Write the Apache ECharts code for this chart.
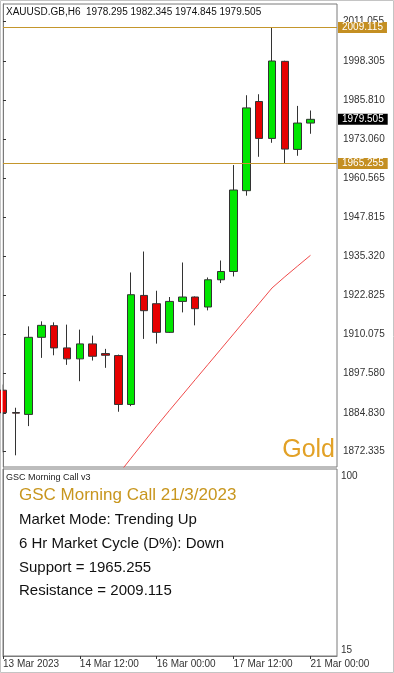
<!DOCTYPE html>
<html><head><meta charset="utf-8">
<script src="https://cdn.jsdelivr.net/npm/echarts@6/dist/echarts.min.js"></script>
<style>html,body{margin:0;padding:0;background:#fff}#c{width:394px;height:673px}</style>
</head><body><div id="c"></div><script>
// ---- data ----
const symbolName = 'XAUUSD.GB,H6';
const barTimes = ['13 Mar 00:00','13 Mar 06:00','13 Mar 12:00','13 Mar 18:00','14 Mar 00:00','14 Mar 06:00','14 Mar 12:00','14 Mar 18:00',
  '15 Mar 00:00','15 Mar 06:00','15 Mar 12:00','15 Mar 18:00','16 Mar 00:00','16 Mar 06:00','16 Mar 12:00','16 Mar 18:00',
  '17 Mar 00:00','17 Mar 06:00','17 Mar 12:00','17 Mar 18:00','20 Mar 00:00','20 Mar 06:00','20 Mar 12:00','20 Mar 18:00','21 Mar 00:00'];
const opens  = [1892.15,1884.95,1884.34,1909.20,1912.96,1905.79,1902.25,1907.08,1903.96,1903.32,1887.55,1922.71,1920.04,1910.81,1920.78,1922.20,1918.98,1927.76,1930.43,1956.49,1985.25,1973.34,1998.20,1969.80,1978.295];
const closes = [1884.88,1884.75,1909.20,1913.06,1905.79,1902.25,1907.08,1903.09,1903.41,1887.55,1922.94,1917.79,1910.81,1920.78,1922.20,1918.43,1927.76,1930.43,1956.71,1983.19,1973.34,1998.31,1969.90,1978.30,1979.505];
const lows   = [1872.11,1871.15,1880.57,1902.57,1903.41,1900.32,1895.05,1901.71,1899.36,1885.20,1887.00,1908.69,1907.17,1910.62,1917.24,1913.06,1917.89,1926.70,1928.82,1954.88,1967.42,1971.93,1965.255,1967.75,1974.845];
const highs  = [1893.98,1886.49,1912.74,1914.35,1914.03,1913.29,1911.68,1909.75,1905.47,1903.64,1930.11,1936.87,1924.22,1922.20,1933.33,1922.39,1928.50,1933.97,1964.75,1987.27,1987.59,2009.115,1998.40,1983.83,1982.345];
const maValues = [null,null,null,null,null,null,null,null,null,1865.03,1870.25,1875.46,1880.64,1885.66,1890.58,1895.53,1900.45,1905.37,1910.30,1915.25,1920.17,1925.12,1928.73,1932.20,1935.64];
const priceTicks = [2011.055,1998.305,1985.810,1973.060,1960.565,1947.815,1935.320,1922.825,1910.075,1897.580,1884.830,1872.335];
const timeTickLabels = ['13 Mar 2023','14 Mar 12:00','16 Mar 00:00','17 Mar 12:00','21 Mar 00:00'];
const timeTickBars = ['13 Mar 00:00','14 Mar 12:00','16 Mar 00:00','17 Mar 12:00','21 Mar 00:00'];
const subScaleTicks = [100, 15];
const supportLevel = 1965.255;
const resistanceLevel = 2009.115;
const panelTitle = 'GSC Morning Call v3';
const callTitle = 'GSC Morning Call 21/3/2023';
const callLines = ['Market Mode: Trending Up','6 Hr Market Cycle (D%): Down','Support = 1965.255','Resistance = 2009.115'];
const assetLabel = 'Gold';

// ---- build ----
const last = barTimes.length - 1;
const candleData = barTimes.map((t,i)=>[i, opens[i], closes[i], lows[i], highs[i]]);
const maData = maValues.map((v,i)=>[i, v]);
const tickIdx = timeTickBars.map(t=>barTimes.indexOf(t));
const tickLabelMap = {}; tickIdx.forEach((ix,k)=>tickLabelMap[ix]=timeTickLabels[k]);
const header = symbolName + '  ' + [opens[last],highs[last],lows[last],closes[last]].map(v=>v.toFixed(3)).join(' ');
const FONT = '"Liberation Sans", Arial, sans-serif';
const GOLD_LINE = '#c4962c', GOLD_BOX = '#c48f22';
const priceLabel = (bg)=>({show:true, position:'end', distance:1, formatter:p=>Number(p.value).toFixed(3), color:'#fff',
  backgroundColor:bg, padding:[1,4,0,4], fontSize:10, lineHeight:10, fontFamily:FONT});

const chart = echarts.init(document.getElementById('c'), null, {renderer:'canvas'});
chart.setOption({
  animation:false,
  backgroundColor:'#fff',
  textStyle:{fontFamily:FONT},
  grid:[
    {left:3, top:4, width:334, height:463, show:true, borderColor:'#7a7a7a', borderWidth:1, backgroundColor:'#fff'},
    {left:3, top:469, width:334, height:187, show:true, borderColor:'#7a7a7a', borderWidth:1, backgroundColor:'#fff'}
  ],
  xAxis:[
    {type:'value', gridIndex:0, min:0, max:26.07, axisLine:{show:false}, axisTick:{show:false}, axisLabel:{show:false}, splitLine:{show:false}},
    {type:'value', gridIndex:1, min:0, max:26.07, axisLine:{show:true, lineStyle:{color:'#7a7a7a'}},
      axisTick:{show:true, length:3, lineStyle:{color:'#333'}, customValues:tickIdx},
      axisLabel:{show:true, customValues:tickIdx, align:'left', margin:3, fontSize:10, color:'#333', fontFamily:FONT,
        formatter:v=>tickLabelMap[Math.round(v)]||''},
      splitLine:{show:false}}
  ],
  yAxis:[
    {type:'value', gridIndex:0, position:'right', min:1867.38, max:2016.694,
      axisLine:{show:true, lineStyle:{color:'#7a7a7a'}},
      axisTick:{show:true, length:3, lineStyle:{color:'#333'}, customValues:priceTicks},
      axisLabel:{show:true, customValues:priceTicks, margin:6, fontSize:10, color:'#333', fontFamily:FONT, formatter:v=>v.toFixed(3)},
      splitLine:{show:false}},
    {type:'value', gridIndex:1, position:'right', min:12.07, max:103.42,
      axisLine:{show:true, lineStyle:{color:'#7a7a7a'}}, axisTick:{show:false},
      axisLabel:{show:true, customValues:subScaleTicks, margin:4, fontSize:10, color:'#333', fontFamily:FONT, formatter:v=>String(v)},
      splitLine:{show:false}}
  ],
  series:[
    {type:'candlestick', xAxisIndex:0, yAxisIndex:0, data:candleData, encode:{x:0, y:[1,2,3,4]}, barWidth:8, clip:true,
      itemStyle:{color:'#00e600', color0:'#e60000', borderColor:'#333', borderColor0:'#333', borderWidth:1}
    },
    {type:'line', xAxisIndex:0, yAxisIndex:0, data:maData, symbol:'none', clip:true, connectNulls:false,
      lineStyle:{color:'#ef4a4a', width:1}, itemStyle:{color:GOLD_LINE}, z:3,
      markLine:{silent:true, symbol:['none','none'], animation:false, precision:3,
        lineStyle:{color:GOLD_LINE, width:1, type:'solid', opacity:1},
        data:[
          {yAxis:resistanceLevel, lineStyle:{color:GOLD_LINE, width:1, type:'solid'}, label:priceLabel(GOLD_BOX)},
          {yAxis:supportLevel, lineStyle:{color:GOLD_LINE, width:1, type:'solid'}, label:priceLabel(GOLD_BOX)},
          {yAxis:closes[last], lineStyle:{color:'rgba(0,0,0,0)', width:0}, label:priceLabel('#000')}
        ]}
    }
  ],
  graphic:[
    {type:'rect', shape:{x:0.5,y:0.5,width:393,height:672}, style:{fill:'none', stroke:'#c4c4c4', lineWidth:1}, silent:true, z:-1},
    {type:'rect', shape:{x:1,y:4,width:1.6,height:463}, style:{fill:'#fff'}, silent:true, z:100},
    {type:'text', x:6, y:12, style:{text:header, font:'10px '+FONT, fill:'#111', verticalAlign:'middle'}, z:100},
    {type:'text', x:335, y:463, style:{text:assetLabel, font:'25px '+FONT, fill:'#e2a126', align:'right', verticalAlign:'bottom'}, z:100},
    {type:'text', x:6, y:478, style:{text:panelTitle, font:'9px '+FONT, fill:'#222', verticalAlign:'middle'}, z:100},
    {type:'text', x:19, y:495, style:{text:callTitle, font:'17px '+FONT, fill:'#c8961e', verticalAlign:'middle'}, z:100},
    ...callLines.map((t,k)=>({type:'text', x:19, y:520+k*23.7, style:{text:t, font:'15px '+FONT, fill:'#111', verticalAlign:'middle'}, z:100}))
  ]
});
</script></body></html>
